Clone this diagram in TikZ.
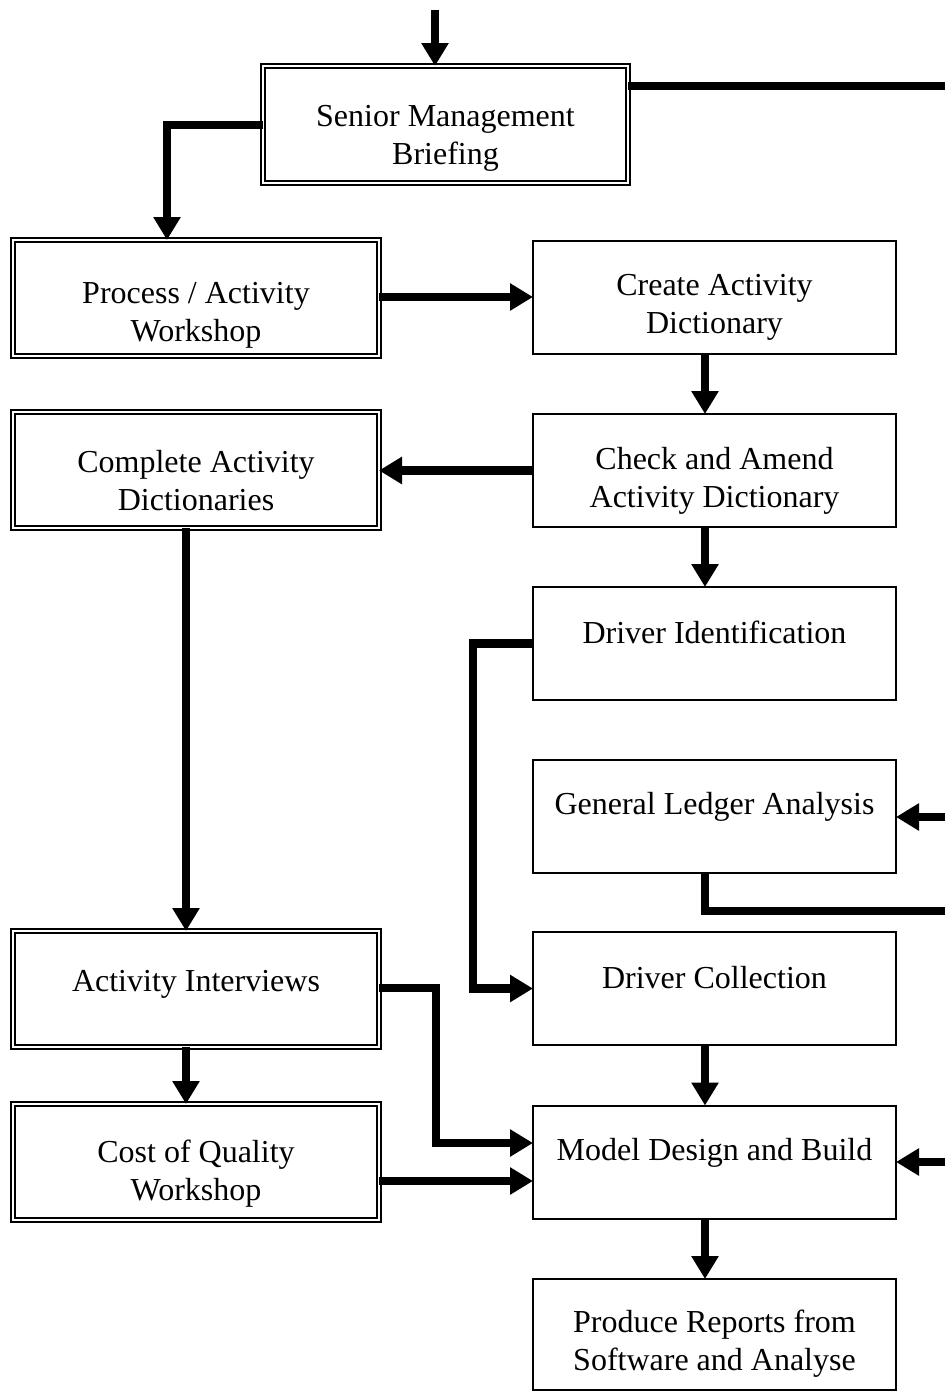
\documentclass[tikz,border=0pt]{standalone}
\usepackage{fontspec}
\setmainfont{Liberation Serif}
\usetikzlibrary{arrows.meta}
\tikzset{
  boxsingle/.style={draw, line width=2pt, outer sep=0pt, inner sep=0pt},
  boxdouble/.style={draw, line width=2pt, double, double distance=2pt, outer sep=0pt, inner sep=0pt},
  txt/.style={anchor=base, align=center, inner sep=0pt, font=\fontsize{32}{37.5}\selectfont},
  conn/.style={line width=8.5pt},
  arr/.style={line width=8.5pt, -{Triangle[length=23pt,width=26pt]}},
}
\begin{document}
\begin{tikzpicture}[x=1pt,y=-1pt]
\useasboundingbox (0,0) rectangle (945,1392);
% boxes
\node[boxdouble, minimum width=365pt, minimum height=117pt] (smb) at (445.5,124.5) {};
\node[boxdouble, minimum width=366pt, minimum height=116pt] (pw) at (196,298) {};
\node[boxdouble, minimum width=366pt, minimum height=116pt] (cad) at (196,470) {};
\node[boxdouble, minimum width=366pt, minimum height=116pt] (ai) at (196,989) {};
\node[boxdouble, minimum width=366pt, minimum height=116pt] (coq) at (196,1162) {};
\node[boxsingle, minimum width=363pt, minimum height=113pt] (create) at (714.5,297.5) {};
\node[boxsingle, minimum width=363pt, minimum height=113pt] (check) at (714.5,470.5) {};
\node[boxsingle, minimum width=363pt, minimum height=113pt] (drvid) at (714.5,643.5) {};
\node[boxsingle, minimum width=363pt, minimum height=113pt] (gl) at (714.5,816.5) {};
\node[boxsingle, minimum width=363pt, minimum height=113pt] (drvcol) at (714.5,988.5) {};
\node[boxsingle, minimum width=363pt, minimum height=113pt] (model) at (714.5,1162) {};
\node[boxsingle, minimum width=363pt, minimum height=111pt] (produce) at (714.5,1334.5) {};
% texts (base anchor = baseline of the last line)
\node[txt] (tsmb) at (445.5,164) {Senior Management\\Briefing};
\node[txt] (tpw) at (196,341) {Process / Activity\\Workshop};
\node[txt] (tcad) at (196,510) {Complete Activity\\Dictionaries};
\node[txt] (tai) at (196,991) {Activity Interviews};
\node[txt] (tcoq) at (196,1200) {Cost of Quality\\Workshop};
\node[txt] (tcreate) at (714.5,333) {Create Activity\\Dictionary};
\node[txt] (tcheck) at (714.5,507) {Check and Amend\\Activity Dictionary};
\node[txt] (tdrvid) at (714.5,643) {Driver Identification};
\node[txt] (tgl) at (714.5,814) {General Ledger Analysis};
\node[txt] (tdrvcol) at (714.5,988) {Driver Collection};
\node[txt] (tmodel) at (714.5,1160) {Model Design and Build};
\node[txt] (tproduce) at (714.5,1370) {Produce Reports from\\Software and Analyse};
% free ends
\coordinate (in0) at (435,10);
\coordinate (r0) at (945,86);
\coordinate (r1) at (945,817);
\coordinate (r2) at (945,911);
\coordinate (r3) at (945,1162);
% connectors
\draw[arr] (in0) -- (in0 |- smb.north);
\draw[arr] (smb.west |- 0,125) -| (pw.north -| 167,0);
\draw[conn] (smb.east |- r0) -- (r0);
\draw[arr] (pw.east |- 0,297) -- (create.west |- 0,297);
\draw[arr] (create.south -| 705,0) -- (check.north -| 705,0);
\draw[arr] (check.west) -- (check.west -| cad.east);
\draw[arr] (check.south -| 705,0) -- (drvid.north -| 705,0);
\draw[arr] (cad.south -| 186,0) -- (ai.north -| 186,0);
\draw[arr] (drvid.west) -- (drvid.west -| 473,0) |- (drvcol.west);
\draw[arr] (r1) -- (r1 -| gl.east);
\draw[conn] (gl.south -| 705,0) |- (r2);
\draw[arr] (ai.east |- 0,988) -- (436,988) |- (model.west |- 0,1143);
\draw[arr] (drvcol.south -| 705,0) -- (model.north -| 705,0);
\draw[arr] (ai.south -| 186,0) -- (coq.north -| 186,0);
\draw[arr] (coq.east |- 0,1181) -- (model.west |- 0,1181);
\draw[arr] (r3) -- (r3 -| model.east);
\draw[arr] (model.south -| 705,0) -- (produce.north -| 705,0);
\end{tikzpicture}
\end{document}
